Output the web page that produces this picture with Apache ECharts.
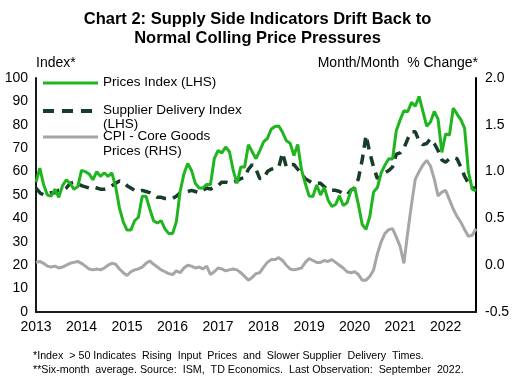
<!DOCTYPE html>
<html><head><meta charset="utf-8">
<script src="https://cdn.jsdelivr.net/npm/echarts@6/dist/echarts.min.js"></script>
<style>html,body{margin:0;padding:0;background:#fff}#c{width:515px;height:384px}</style>
</head><body><div id="c"></div>
<script>
const years = ['2013','2014','2015','2016','2017','2018','2019','2020','2021','2022'];
const months = [];
years.forEach(y => { for (let m = 1; m <= 12; m++) { if (y === '2022' && m > 9) break; months.push(y + '-' + (m < 10 ? '0' + m : m)); } });

const pricesIndex = [
 55.5,61.5,54.5,50,49.5,52.5,49,54,56.5,55,52.5,53.5,
 60.5,60,59,56.5,60,58,59.5,58,59.5,53.5,44.5,38.5,
 35,35,39,40.5,49.5,49.5,44,39,38,39,35.5,33.5,
 33.5,38.5,51.5,59,63.5,60.5,55,53,53,54.5,54.5,65.5,
 69,68,70.5,68.5,60.5,55,62,62,71.5,68.5,65.5,69,
 72.7,74.2,78.1,79.3,79.5,76.8,73.2,72.1,66.9,71.6,60.7,54.9,
 49.6,49.4,54.3,50,53.2,47.9,45.1,46,49.7,45.5,46.7,51.7,
 53.3,45.9,37.4,35.3,40.8,51.3,53.2,59.5,62.8,65.5,65.4,77.6,
 82.1,86,85.6,89.6,88,92.1,85.7,79.4,81.2,85.7,82.4,68.2,
 76.1,75.6,87.1,84.6,82.2,78.5,60,52.5,51.7
];
const supplierDelivery = [
 53,51,50,50.5,51,51,52,52,53,55,55.5,55,
 54,53.5,53,53.5,53,52.5,52.5,53,54,55,56,55.5,
 54,53,52,51.5,52,51.5,51,50,49,49,48.5,48.5,
 48.5,49.5,51,51,51.5,52,51.5,51,52,53,52.5,53.5,
 54,55.5,55.5,55,55.5,56,57,57.5,61,63,61,57,
 57,60,61,61.5,62,68,62,63,63,61,59,57,
 56,55,55,55,53.5,52,52,52,51.5,50.5,50,52,
 53,57,65,75.5,68,62,57,58,59.5,60.5,62,67.5,
 68,70,74,77,77,73,71.5,72,74,72,69,65,
 64,65.5,66,65.5,62,58,55,53,53
];
const cpiCoreGoods = [
 0.03,0.04,0.02,-0.01,-0.02,-0.01,-0.03,-0.02,0.0,0.02,0.03,0.04,
 0.02,-0.01,-0.04,-0.05,-0.04,-0.05,-0.03,0.0,0.02,0.01,-0.04,-0.08,
 -0.11,-0.07,-0.05,-0.04,-0.02,0.02,0.045,0.01,-0.02,-0.05,-0.07,-0.09,
 -0.1,-0.06,-0.08,-0.03,0.0,-0.01,-0.03,-0.02,-0.04,-0.01,-0.1,-0.07,
 -0.03,-0.04,-0.06,-0.05,-0.04,-0.05,-0.08,-0.12,-0.16,-0.13,-0.09,-0.08,
 -0.02,0.03,0.06,0.06,0.08,0.05,0.0,-0.04,-0.05,-0.04,-0.03,0.03,
 0.07,0.05,0.03,0.03,0.05,0.04,0.06,0.03,0.0,-0.03,-0.07,-0.08,
 -0.07,-0.1,-0.16,-0.16,-0.12,-0.05,0.12,0.25,0.34,0.38,0.39,0.3,
 0.2,0.02,0.35,0.65,0.92,1.0,1.07,1.12,1.06,0.92,0.74,0.78,
 0.8,0.7,0.6,0.52,0.46,0.38,0.31,0.32,0.39
];
const leftTicks = {min: 0, max: 100, interval: 10};
const rightTicks = {min: -0.5, max: 2.0, interval: 0.5};

const FONT = '"Liberation Sans", Arial, sans-serif';
const GREEN = '#1fb51f', DARK = '#173d29', GRAY = '#a6a6a6';

const chart = echarts.init(document.getElementById('c'), null, {renderer: 'canvas'});
chart.setOption({
  animation: false,
  backgroundColor: '#fff',
  textStyle: {fontFamily: FONT},
  title: {
    text: 'Chart 2: Supply Side Indicators Drift Back to\nNormal Colling Price Pressures',
    left: 'center', top: 5,
    textStyle: {fontFamily: FONT, fontSize: 16.5, fontWeight: 'bold', color: '#000', lineHeight: 19}
  },
  grid: {left: 36, right: 39, top: 78, bottom: 72, containLabel: false},
  xAxis: {
    type: 'category', data: months, boundaryGap: false,
    axisLine: {lineStyle: {color: '#1a1a1a', width: 2}},
    axisTick: {show: false},
    axisLabel: {interval: 11, formatter: v => v.slice(0, 4), color: '#000', fontSize: 14, margin: 8, fontFamily: FONT},
    splitLine: {show: false}
  },
  yAxis: [
    {type: 'value', min: leftTicks.min, max: leftTicks.max, interval: leftTicks.interval,
     name: 'Index*', nameLocation: 'end', nameGap: 8, nameTextStyle: {color: '#000', fontSize: 14, align: 'left', padding: [0,0,0,0], fontFamily: FONT},
     axisLine: {show: true, lineStyle: {color: '#1a1a1a', width: 2}},
     axisTick: {show: false}, splitLine: {show: false},
     axisLabel: {color: '#000', fontSize: 14, margin: 8, fontFamily: FONT}},
    {type: 'value', min: rightTicks.min, max: rightTicks.max, interval: rightTicks.interval, position: 'right',
     name: 'Month/Month  % Change*', nameLocation: 'end', nameGap: 8, nameTextStyle: {color: '#000', fontSize: 14, align: 'right', padding: [0,-2,0,0], fontFamily: FONT},
     axisLine: {show: true, lineStyle: {color: '#000', width: 2}},
     axisTick: {show: false}, splitLine: {show: false},
     axisLabel: {color: '#000', fontSize: 14, margin: 9, formatter: v => v.toFixed(1), fontFamily: FONT}}
  ],
  series: [
    {name: 'CPI - Core Goods Prices (RHS)', type: 'line', yAxisIndex: 1, data: cpiCoreGoods, showSymbol: false,
     lineStyle: {color: GRAY, width: 3}, z: 1},
    {name: 'Supplier Delivery Index (LHS)', type: 'line', yAxisIndex: 0, data: supplierDelivery, showSymbol: false,
     lineStyle: {color: DARK, width: 3.5, type: [10, 7]}, z: 2},
    {name: 'Prices Index (LHS)', type: 'line', yAxisIndex: 0, data: pricesIndex, showSymbol: false,
     lineStyle: {color: GREEN, width: 3}, z: 3}
  ],
  graphic: [
    {type: 'line', shape: {x1: 43, y1: 83, x2: 98, y2: 83}, style: {stroke: GREEN, lineWidth: 3}},
    {type: 'text', left: 103, top: 75, style: {text: 'Prices Index (LHS)', font: '13.5px ' + FONT, fill: '#000'}},
    {type: 'line', shape: {x1: 43, y1: 111, x2: 98, y2: 111}, style: {stroke: DARK, lineWidth: 4, lineDash: [11, 8]}},
    {type: 'text', left: 103, top: 103, style: {text: 'Supplier Delivery Index\n(LHS)', font: '13.5px ' + FONT, fill: '#000', lineHeight: 14}},
    {type: 'line', shape: {x1: 43, y1: 137, x2: 98, y2: 137}, style: {stroke: GRAY, lineWidth: 3}},
    {type: 'text', left: 103, top: 129, style: {text: 'CPI - Core Goods\nPrices (RHS)', font: '13.5px ' + FONT, fill: '#000', lineHeight: 15}},
    {type: 'text', left: 33, top: 351, style: {text: '*Index  > 50 Indicates  Rising  Input  Prices  and  Slower Supplier  Delivery  Times.', font: '10.7px ' + FONT, fill: '#000'}},
    {type: 'text', left: 33, top: 365, style: {text: '**Six-month  average. Source:  ISM,  TD Economics.  Last Observation:  September  2022.', font: '10.7px ' + FONT, fill: '#000'}}
  ]
});
</script>
</body></html>
